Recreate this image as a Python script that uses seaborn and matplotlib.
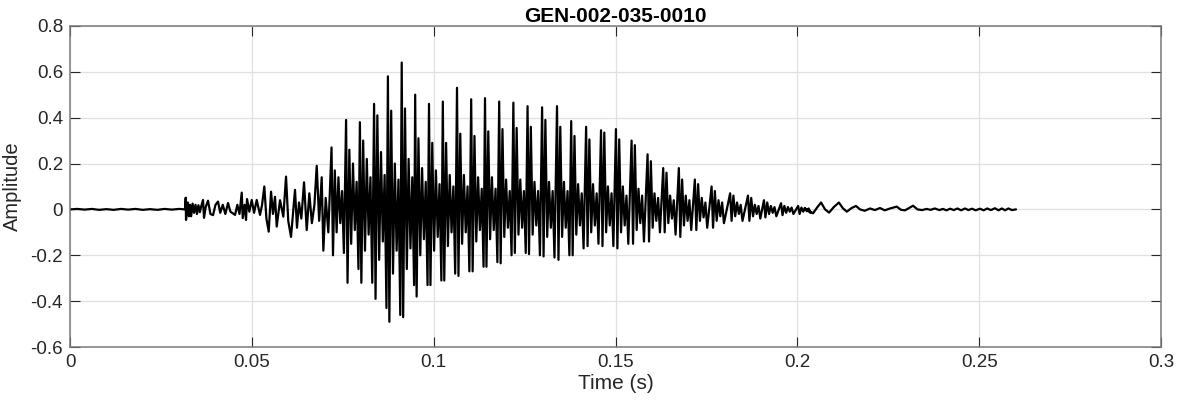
## Forma de onda GEN-002-035-0010 ##
import numpy as np
import pandas as pd
import matplotlib
matplotlib.use("Agg")
import matplotlib.pyplot as plt
from matplotlib.ticker import FormatStrFormatter
import seaborn as sns

# Tramo inicial (silencio)
pre_t = [0.0, 0.002, 0.004, 0.006, 0.008, 0.010, 0.012, 0.014, 0.016, 0.018,
         0.020, 0.022, 0.024, 0.026, 0.028, 0.030, 0.0316]
pre_amp = [0.0, 0.002, -0.001, 0.002, -0.002, 0.001, -0.002, 0.002, -0.001, 0.002,
           -0.002, 0.001, -0.002, 0.002, -0.001, 0.002, 0.0]

# Arranque (0.0316 - 0.071 s), extremos
onset_t = [0.03181, 0.03189, 0.0324, 0.0327, 0.0330, 0.0333, 0.0337, 0.0341, 0.0345, 0.0349,
           0.0353, 0.0357, 0.0361, 0.03657, 0.03684, 0.0373, 0.03794, 0.0386, 0.03932,
           0.0400, 0.04069, 0.0413, 0.0420, 0.0427, 0.04344, 0.0441, 0.04537, 0.0460,
           0.0466, 0.04721, 0.04748, 0.0480, 0.04839, 0.04867, 0.0493, 0.04996, 0.0506,
           0.05133, 0.05224, 0.0528, 0.05342, 0.0540, 0.05463, 0.05527, 0.0558, 0.05636,
           0.05683, 0.05774, 0.05865, 0.05939, 0.0600, 0.06076, 0.06186, 0.06240, 0.06296,
           0.0636, 0.06434, 0.06508, 0.06580, 0.0665, 0.0672, 0.06783, 0.0685, 0.06920,
           0.06965, 0.0703, 0.07102]
onset_amp = [0.051, -0.046, 0.03, -0.03, 0.02, -0.03, 0.025, -0.015, 0.02, -0.02,
             0.018, -0.012, 0.015, 0.041, -0.037, 0.01, 0.038, -0.02, -0.025,
             0.02, 0.034, -0.015, 0.02, -0.02, 0.028, -0.01, -0.024, 0.02,
             -0.02, 0.073, -0.038, 0.02, -0.046, 0.045, -0.01, 0.041, -0.015,
             0.041, -0.024, 0.02, 0.10, -0.04, -0.097, 0.077, -0.02, 0.055,
             -0.075, 0.04, -0.032, 0.143, -0.05, -0.12, 0.085, -0.08, 0.03,
             -0.04, 0.118, -0.09, 0.07, -0.06, 0.02, 0.19, -0.05, 0.14,
             -0.18, 0.05, -0.10]

# Ciclos glotales: instante del pico principal y extremos de cada ciclo
cyc_t = [0.0719, 0.0759, 0.0797, 0.0836, 0.0874, 0.0912, 0.0949, 0.0987, 0.1025, 0.1064,
         0.1103, 0.1141, 0.1180, 0.1219, 0.1258, 0.1298, 0.1339, 0.1378, 0.1419, 0.1460,
         0.1501, 0.1544, 0.1588, 0.1631, 0.1674, 0.1718, 0.1764, 0.1815, 0.1864, 0.1908,
         0.1955, 0.2002]
cyc_peak = [0.27, 0.39, 0.38, 0.46, 0.58, 0.64, 0.50, 0.46, 0.47, 0.53,
            0.48, 0.485, 0.47, 0.465, 0.45, 0.445, 0.45, 0.385, 0.36, 0.345,
            0.35, 0.30, 0.24, 0.18, 0.18, 0.13, 0.10, 0.07, 0.06, 0.04,
            0.027, 0.015]
cyc_trough = [-0.20, -0.32, -0.32, -0.39, -0.49, -0.47, -0.38, -0.33, -0.31, -0.29,
              -0.27, -0.25, -0.235, -0.19, -0.195, -0.205, -0.22, -0.20, -0.16, -0.16,
              -0.17, -0.15, -0.14, -0.10, -0.12, -0.09, -0.08, -0.05, -0.05, -0.035,
              -0.025, -0.02]
cyc_trough2 = [-0.19, -0.26, -0.32, -0.43, -0.46, -0.33, -0.33, -0.31, -0.28, -0.27,
               -0.25, -0.23, -0.20, -0.19, -0.20, -0.21, -0.20, -0.17, -0.15, -0.16,
               -0.15, -0.14, -0.10, -0.11, -0.09, -0.08, -0.06, -0.05, -0.04, -0.03,
               -0.02, -0.015]
cyc_second = [0.17, 0.26, 0.30, 0.41, 0.43, 0.44, 0.31, 0.29, 0.29, 0.33,
              0.32, 0.34, 0.35, 0.355, 0.36, 0.39, 0.36, 0.32, 0.305, 0.335,
              0.305, 0.28, 0.21, 0.16, 0.13, 0.11, 0.08, 0.06, 0.05, 0.03,
              0.015, 0.008]
cyc_hi = [0.14, 0.20, 0.22, 0.25, 0.20, 0.22, 0.18, 0.17, 0.15, 0.15,
          0.14, 0.14, 0.13, 0.13, 0.12, 0.12, 0.12, 0.11, 0.11, 0.10,
          0.10, 0.09, 0.07, 0.06, 0.06, 0.05, 0.04, 0.03, 0.02, 0.015,
          0.01, 0.005]
cyc_hi2 = [0.08, 0.12, 0.14, 0.15, 0.13, 0.14, 0.12, 0.11, 0.10, 0.10,
           0.09, 0.09, 0.08, 0.08, 0.08, 0.08, 0.08, 0.07, 0.07, 0.07,
           0.06, 0.06, 0.05, 0.04, 0.04, 0.03, 0.03, 0.02, 0.015, 0.01,
           0.008, 0.004]
cyc_lo = [-0.10, -0.15, -0.18, -0.22, -0.28, -0.26, -0.20, -0.18, -0.16, -0.15,
          -0.14, -0.13, -0.12, -0.11, -0.11, -0.12, -0.12, -0.11, -0.10, -0.10,
          -0.10, -0.09, -0.08, -0.06, -0.07, -0.05, -0.05, -0.03, -0.03, -0.02,
          -0.015, -0.01]
cyc_lo2 = [-0.06, -0.09, -0.11, -0.14, -0.18, -0.17, -0.13, -0.12, -0.10, -0.10,
           -0.09, -0.09, -0.08, -0.08, -0.07, -0.08, -0.08, -0.07, -0.07, -0.07,
           -0.07, -0.06, -0.05, -0.04, -0.05, -0.035, -0.03, -0.02, -0.02, -0.015,
           -0.01, -0.008]
# desfase (s) de cada extremo dentro del ciclo
cyc_offsets = [0.0, 0.0004, 0.0009, 0.0014, 0.0019, 0.0024, 0.0029, 0.0034]

# Cola final (decaimiento)
tail_t = [0.2020, 0.2043, 0.2055, 0.2065, 0.2076, 0.2087, 0.2100, 0.2114, 0.2125, 0.2136,
          0.2148, 0.2161, 0.2172, 0.2185, 0.2200, 0.2213, 0.2227, 0.2240, 0.2255, 0.2273,
          0.2285, 0.2296, 0.2307, 0.2318, 0.2330, 0.2343, 0.2355, 0.2366, 0.2378, 0.2390,
          0.2400, 0.2410, 0.2420, 0.2430, 0.2440, 0.2450, 0.2461, 0.2470, 0.2480, 0.2490,
          0.2502, 0.2512, 0.2522, 0.2532, 0.2543, 0.2553, 0.2562, 0.2571, 0.2580, 0.2590,
          0.2601]
tail_amp = [0.005, -0.017, 0.01, 0.03, 0.0, -0.014, 0.01, 0.03, 0.005, -0.01,
            0.005, 0.015, 0.0, -0.006, 0.004, -0.003, 0.006, -0.004, 0.004, 0.012,
            -0.002, -0.004, 0.006, 0.016, 0.0, -0.003, 0.002, -0.002, 0.004, -0.003,
            0.002, -0.004, 0.003, -0.003, 0.004, -0.004, 0.004, -0.003, 0.003, -0.004,
            0.003, -0.004, 0.004, -0.003, 0.005, -0.004, 0.004, -0.004, 0.004, -0.003,
            0.0]

# Armamos la serie completa
t, amp = list(pre_t), list(pre_amp)
t += onset_t
amp += onset_amp
for i in range(len(cyc_t)):
    vals = [cyc_peak[i], cyc_trough[i], cyc_second[i], cyc_lo[i], cyc_hi[i], cyc_lo2[i],
            cyc_hi2[i], cyc_trough2[i]]
    for off, v in zip(cyc_offsets, vals):
        t.append(cyc_t[i] + off)
        amp.append(v)
t += tail_t
amp += tail_amp

df = pd.DataFrame({"Time (s)": t, "Amplitude": amp})

# Grafico
sns.set_theme(style="whitegrid")
plt.rcParams['font.family'] = ['Liberation Sans', 'DejaVu Sans']
plt.rcParams['axes.unicode_minus'] = False

fig = plt.figure(figsize=(11.77, 4.04), dpi=100)
ax = fig.add_axes([0.0595, 0.141, 0.927, 0.795])
sns.lineplot(data=df, x="Time (s)", y="Amplitude", color='black', linewidth=1.6,
             estimator=None, sort=False, ax=ax)

ax.set_xlim(0, 0.3)
ax.set_ylim(-0.6, 0.8)
ax.set_xticks(np.round(np.arange(0, 0.31, 0.05), 2))
ax.set_yticks(np.round(np.arange(-0.6, 0.81, 0.2), 1))
ax.xaxis.set_major_formatter(FormatStrFormatter('%g'))
ax.yaxis.set_major_formatter(FormatStrFormatter('%g'))
ax.grid(True, color='#e0e0e0', linewidth=0.9)
ax.tick_params(direction='in', length=7, width=0.8, color='#262626', labelcolor='#262626',
               labelsize=13.5, top=True, right=True, left=True, bottom=True, pad=5)
for s in ax.spines.values():
    s.set_color('#7a7a7a')
    s.set_linewidth(1.1)
ax.set_xlabel('Time (s)', fontsize=15, color='#262626', labelpad=2)
ax.set_ylabel('Amplitude', fontsize=14.5, color='#262626', labelpad=6)
ax.set_title('GEN-002-035-0010', fontsize=15, fontweight='bold', color='black', pad=3)

plt.savefig('out.png', dpi=100)
